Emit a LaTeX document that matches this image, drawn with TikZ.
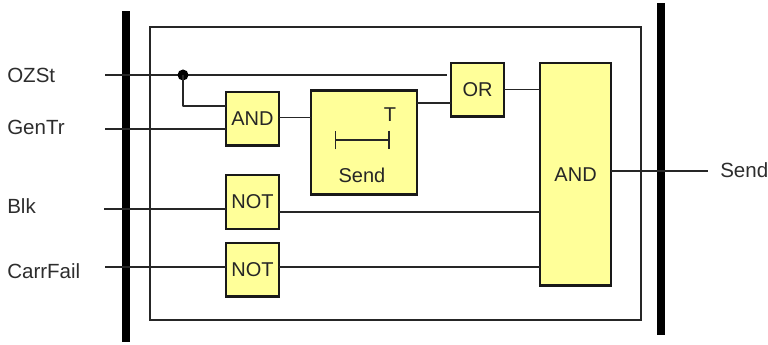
\documentclass[tikz,border=0pt]{standalone}
\usepackage{fontspec}
\setmainfont{Liberation Sans}
\usepackage{xcolor}
\usetikzlibrary{positioning,arrows.meta}
\definecolor{blockyellow}{RGB}{255,255,153}
\definecolor{labelgray}{RGB}{45,45,45}

\begin{document}
\begin{tikzpicture}[
        x=0.75pt, y=-0.75pt,
        block/.style={rectangle, draw=black!90, fill=blockyellow, line width=1.9pt,
                   minimum width=39.45pt, minimum height=40.2pt, inner sep=0pt,
                   outer sep=0pt, font=\fontsize{15}{16}\selectfont, text=black!85},
        bar/.style={rectangle, fill=black, inner sep=0pt, outer sep=0pt, minimum width=6.6pt},
        signal/.style={font=\fontsize{15.4}{16}\selectfont, text=labelgray, anchor=west, inner sep=0pt},
        wire/.style={line width=1.2pt, black!85}
    ]
        \useasboundingbox (0,0) rectangle (768,345);

        \node[rectangle, draw=black!85, line width=1.1pt, inner sep=0pt, outer sep=0pt,
              minimum width=368pt, minimum height=219.5pt] (frame) at (395.5,173.5) {};
        \node[bar, minimum height=248.5pt] (leftbar) at (126,176.5) {};
        \node[bar, minimum height=248.5pt] (rightbar) at (661,169) {};

        \node[block] (and1) at (252.5,118.7) {AND};
        \node[block, minimum width=79.2pt, minimum height=78.2pt, right=24.3pt of and1, yshift=-17.9pt] (sendbox) {};
        \node[block, right=25.8pt of sendbox, yshift=39.45pt] (or1) {OR};
        \node[block, minimum width=53.1pt, minimum height=166.9pt, right=27.3pt of or1, yshift=-63.15pt] (and2) {AND};
        \node[block, below=22.3pt of and1] (not1) {NOT};
        \node[block, below=10.65pt of not1] (not2) {NOT};

        \node[signal] (ozst) at (7,75) {OZSt};
        \node[signal] (gentr) at (7,127.5) {GenTr};
        \node[signal] (blk) at (7,206) {Blk};
        \node[signal] (carrfail) at (7,271) {CarrFail};
        \node[signal] (sendout) at (720,170) {Send};

        \node[font=\fontsize{15}{16}\selectfont, text=black!85] (tlabel) at (390,115) {T};
        \node[font=\fontsize{15}{16}\selectfont, text=black!85] (sendlabel) at (362,175) {Send};
        \coordinate (timerl) at (334.5,140);
        \coordinate (timerr) at (390,140);
        \draw[wire, {Bar[width=14pt,line width=1.2pt]}-{Bar[width=14pt,line width=1.2pt]}] (timerl) -- (timerr);

        \coordinate (ozstin) at (105,75);
        \coordinate (genin) at (105,129);
        \coordinate (blkin) at (104,209);
        \coordinate (carrin) at (105,267);
        \coordinate (ozstend) at (447,75);
        \coordinate (tap) at (183,75);
        \coordinate (sendend) at (708,171);

        \draw[wire] (ozstin) -- (ozstend);
        \fill (tap) circle (5.5);
        \draw[wire, line join=round] (tap) |- (and1.west |- 0,106);
        \draw[wire] (genin) -- (genin -| and1.west);
        \draw[wire] (blkin) -- (blkin -| not1.west);
        \draw[wire] (carrin) -- (carrin -| not2.west);
        \draw[wire] (and1.east |- 0,117.5) -- (sendbox.west |- 0,117.5);
        \draw[wire] (sendbox.east |- 0,103) -- (or1.west |- 0,103);
        \draw[wire] (or1.east |- 0,89.5) -- (and2.west |- 0,89.5);
        \draw[wire] (not1.east |- 0,212) -- (and2.west |- 0,212);
        \draw[wire] (carrin -| not2.east) -- (carrin -| and2.west);
        \draw[wire] (and2.east |- sendend) -- (sendend);
    \end{tikzpicture}
\end{document}
